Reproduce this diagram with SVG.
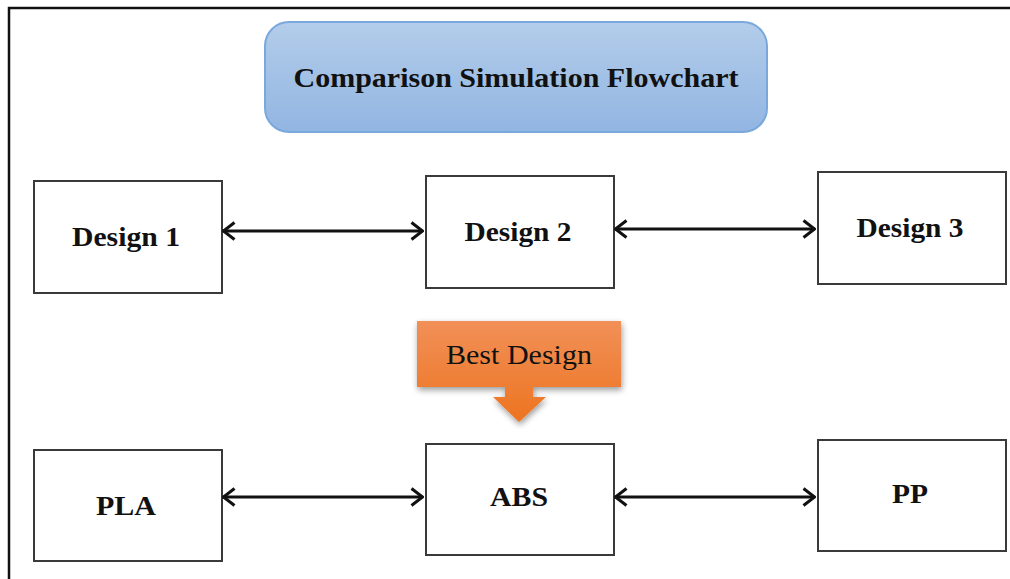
<svg xmlns="http://www.w3.org/2000/svg" width="1010" height="579" viewBox="0 0 1010 579">
<style>
.box{fill:#fff;stroke:#3a3a3a;stroke-width:2}
.lbl{font-family:"Liberation Serif",serif;font-weight:bold;font-size:27px;fill:#111;text-anchor:middle}
.con{stroke:#111;stroke-width:3;fill:none;marker-start:url(#ah);marker-end:url(#ah)}
</style>
<defs>
<linearGradient id="blue" x1="0" y1="0" x2="0" y2="1">
<stop offset="0" stop-color="#b3cdea"/><stop offset="1" stop-color="#92b5e2"/>
</linearGradient>
<linearGradient id="orange" x1="0" y1="0" x2="0" y2="1">
<stop offset="0" stop-color="#f19058"/><stop offset="1" stop-color="#ed7420"/>
</linearGradient>
<filter id="sh" x="-20%" y="-20%" width="140%" height="150%">
<feGaussianBlur in="SourceAlpha" stdDeviation="3"/><feOffset dx="1" dy="3"/>
<feComponentTransfer><feFuncA type="linear" slope="0.4"/></feComponentTransfer>
<feMerge><feMergeNode/><feMergeNode in="SourceGraphic"/></feMerge>
</filter>
<marker id="ah" viewBox="0 0 14 20" refX="13" refY="10" markerWidth="14" markerHeight="20" markerUnits="userSpaceOnUse" orient="auto-start-reverse">
<polyline points="1.5,1.5 12.5,10 1.5,18.5" fill="none" stroke="#111" stroke-width="3" stroke-linejoin="miter"/>
</marker>
</defs>
<rect width="1010" height="579" fill="#fff"/>
<path d="M9,579 V8 H1010" fill="none" stroke="#111" stroke-width="2.5"/>
<g id="title">
<rect x="265" y="22" width="502" height="110" rx="24" fill="url(#blue)" stroke="#7ba8dc" stroke-width="2"/>
<text class="lbl" x="516" y="87" font-size="28" textLength="445" lengthAdjust="spacingAndGlyphs">Comparison Simulation Flowchart</text>
</g>
<g id="design1"><rect class="box" x="34" y="181" width="188" height="112"/><text class="lbl" x="126" y="246" textLength="108" lengthAdjust="spacingAndGlyphs">Design 1</text></g>
<g id="design2"><rect class="box" x="426" y="176" width="188" height="112"/><text class="lbl" x="518" y="241" textLength="107" lengthAdjust="spacingAndGlyphs">Design 2</text></g>
<g id="design3"><rect class="box" x="818" y="172" width="188" height="112"/><text class="lbl" x="910" y="237" textLength="107" lengthAdjust="spacingAndGlyphs">Design 3</text></g>
<g id="best">
<path d="M417,321 H621 V387 H533 V397 H546 L519,422 L493,397 H505 V387 H417 Z" fill="url(#orange)" filter="url(#sh)"/>
<text x="519" y="364" font-family="'Liberation Serif',serif" font-size="27" fill="#111" text-anchor="middle" textLength="146" lengthAdjust="spacingAndGlyphs">Best Design</text>
</g>
<g id="pla"><rect class="box" x="34" y="450" width="188" height="111"/><text class="lbl" x="126" y="515" textLength="60" lengthAdjust="spacingAndGlyphs">PLA</text></g>
<g id="abs"><rect class="box" x="426" y="444" width="188" height="111"/><text class="lbl" x="519" y="506" textLength="58" lengthAdjust="spacingAndGlyphs">ABS</text></g>
<g id="pp"><rect class="box" x="818" y="440" width="188" height="111"/><text class="lbl" x="910" y="503" textLength="36" lengthAdjust="spacingAndGlyphs">PP</text></g>
<g id="connectors">
<line class="con" x1="223" y1="231" x2="423" y2="231"/>
<line class="con" x1="615" y1="229" x2="815" y2="229"/>
<line class="con" x1="223" y1="497" x2="423" y2="497"/>
<line class="con" x1="615" y1="497" x2="815" y2="497"/>
</g>
</svg>
